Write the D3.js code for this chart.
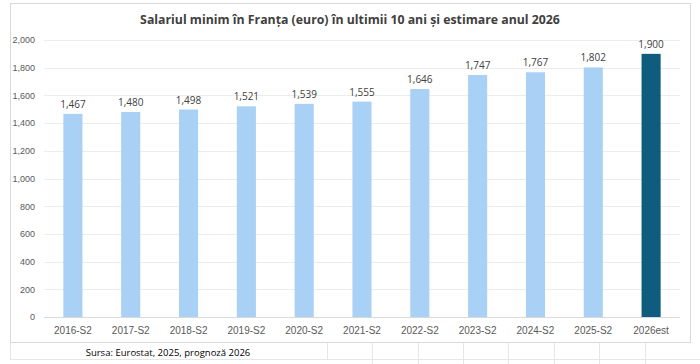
<!DOCTYPE html>
<html>
<head>
<meta charset="utf-8">
<script src="https://cdn.jsdelivr.net/npm/d3@7"></script>
<style>
body { margin: 0; background: #fff; }
svg { display: block; font-family: "Open Sans", "Noto Sans", sans-serif; }
</style>
</head>
<body>
<div id="chart"></div>
<script>
// date
var categories = ["2016-S2", "2017-S2", "2018-S2", "2019-S2", "2020-S2", "2021-S2",
  "2022-S2", "2023-S2", "2024-S2", "2025-S2", "2026est"];
var values = [1467, 1480, 1498, 1521, 1539, 1555, 1646, 1747, 1767, 1802, 1900];
var yTicks = [0, 200, 400, 600, 800, 1000, 1200, 1400, 1600, 1800, 2000];
var title = "Salariul minim în Franța (euro) în ultimii 10 ani și estimare anul 2026";
var source = "Sursa: Eurostat, 2025, prognoză 2026";

var width = 700, height = 364;
var margin = { top: 40, right: 20, bottom: 47, left: 44 };

var svg = d3.select("#chart").append("svg")
  .attr("width", width)
  .attr("height", height);

// celule foaie de calcul sub grafic
var cells = svg.append("g").attr("stroke", "#e6e6e6").attr("stroke-width", 1);
[372, 418, 463, 508, 554, 599, 645].forEach(function (x) {
  cells.append("line").attr("x1", x + 0.5).attr("x2", x + 0.5).attr("y1", 343).attr("y2", 364);
});
cells.append("line").attr("x1", 10).attr("x2", 700).attr("y1", 359.5).attr("y2", 359.5);
cells.append("line").attr("x1", 327.5).attr("x2", 327.5).attr("y1", 343).attr("y2", 360);
cells.append("line").attr("x1", 10.5).attr("x2", 10.5).attr("y1", 343).attr("y2", 360);

// chenar grafic
svg.append("rect")
  .attr("x", 10.5).attr("y", 3.5)
  .attr("width", 680).attr("height", 339)
  .attr("fill", "#fff")
  .attr("stroke", "#d9d9d9");

var x = d3.scaleBand()
  .domain(categories)
  .range([margin.left, width - margin.right])
  .paddingInner(0.67)
  .paddingOuter(0.335);

var y = d3.scaleLinear()
  .domain([0, 2000])
  .range([height - margin.bottom, margin.top]);

// grila
svg.append("g").selectAll("line")
  .data(yTicks)
  .enter().append("line")
  .attr("x1", margin.left)
  .attr("x2", width - margin.right)
  .attr("y1", function (d) { return Math.round(y(d)) + 0.5; })
  .attr("y2", function (d) { return Math.round(y(d)) + 0.5; })
  .attr("stroke", function (d) { return d === 0 ? "#d9d9d9" : "#ececec"; });

var yAxis = svg.append("g")
  .attr("transform", "translate(" + margin.left + ",0)")
  .call(d3.axisLeft(y).tickValues(yTicks).tickSize(0).tickPadding(9)
    .tickFormat(d3.format(",")));
yAxis.select(".domain").remove();
yAxis.selectAll("text").attr("fill", "#595959").style("font-size", "9px");

var xAxis = svg.append("g")
  .attr("transform", "translate(0," + y(0) + ")")
  .call(d3.axisBottom(x).tickSize(0).tickPadding(10));
xAxis.select(".domain").remove();
xAxis.selectAll("text").attr("fill", "#595959").style("font-size", "10px");

// bare
svg.append("g").selectAll("rect")
  .data(values)
  .enter().append("rect")
  .attr("x", function (d, i) { return x(categories[i]); })
  .attr("width", x.bandwidth())
  .attr("y", function (d) { return y(d); })
  .attr("height", function (d) { return y(0) - y(d); })
  .attr("fill", function (d, i) { return i === values.length - 1 ? "#0e5c7e" : "#a9d0f5"; });

// etichete valori
svg.append("g").selectAll("text")
  .data(values)
  .enter().append("text")
  .attr("x", function (d, i) { return x(categories[i]) + x.bandwidth() / 2; })
  .attr("y", function (d) { return y(d) - 6; })
  .attr("text-anchor", "middle")
  .attr("fill", "#404040")
  .style("font-size", "10px")
  .text(function (d) { return d3.format(",")(d); });

svg.append("text")
  .attr("x", 350)
  .attr("y", 24)
  .attr("text-anchor", "middle")
  .attr("fill", "#404040")
  .style("font-size", "12.3px")
  .style("font-weight", "bold")
  .text(title);

svg.append("text")
  .attr("x", 168)
  .attr("y", 356)
  .attr("text-anchor", "middle")
  .attr("fill", "#000")
  .style("font-size", "9.5px")
  .text(source);
</script>
</body>
</html>
